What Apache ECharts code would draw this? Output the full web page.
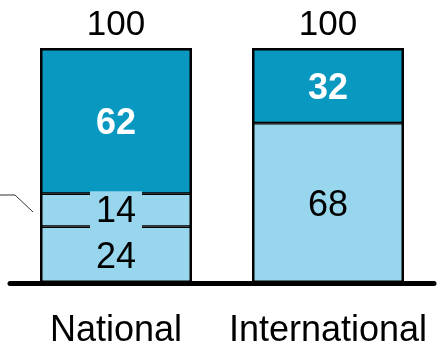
<!DOCTYPE html>
<html>
<head>
<meta charset="utf-8">
<script src="https://cdn.jsdelivr.net/npm/echarts@6/dist/echarts.min.js"></script>
<style>
  html, body { margin: 0; padding: 0; background: #fff; }
  #chart { width: 442px; height: 353px; }
</style>
</head>
<body>
<div id="chart"></div>
<script>
var categories = ['National', 'International'];
var lowVals = [24, 68];
var midVals = [14, '-'];
var topVals = [62, 32];
var totals = [100, 100];

var light = '#97d6ed';
var dark = '#0898c0';
var font = 'Liberation Sans, Arial, sans-serif';

var myChart = echarts.init(document.getElementById('chart'));

// segments get a thin border, shared edges add up to ~2-3px like the original
function segment(name, vals, color, z, label) {
    return {
        name: name,
        type: 'bar',
        stack: 'a',
        data: vals,
        barWidth: 152,
        z: z,
        itemStyle: { color: color, borderColor: '#000', borderWidth: 1.4 },
        label: label
    };
}

var option = {
    backgroundColor: '#fff',
    animation: false,
    grid: {
        left: 10,
        right: 8,
        top: 48,
        bottom: 70
    },
    xAxis: {
        type: 'category',
        data: categories,
        axisLine: {
            lineStyle: { color: '#000', width: 5, cap: 'round' }
        },
        axisTick: { show: false },
        axisLabel: {
            interval: 0,
            hideOverlap: false,
            fontSize: 36,
            color: '#000',
            fontFamily: font,
            margin: 30
        }
    },
    yAxis: {
        type: 'value',
        min: 0,
        max: 100,
        show: false
    },
    graphic: [{
        type: 'polyline',
        shape: { points: [[0, 195], [15, 195], [33, 212]] },
        style: { stroke: '#333', lineWidth: 1, fill: null }
    }],
    series: [
        segment('low', lowVals, light, 2, {
            show: true,
            position: 'inside',
            offset: [0, 3],
            fontSize: 36,
            color: '#000',
            fontFamily: font
        }),
        segment('mid', midVals, light, 3, {
            show: true,
            position: 'inside',
            offset: [0, 2],
            fontSize: 36,
            lineHeight: 36,
            color: '#000',
            fontFamily: font,
            backgroundColor: light,
            padding: [3, 6, 3, 6]
        }),
        segment('top', topVals, dark, 2, {
            show: true,
            position: 'inside',
            offset: [0, 3],
            fontSize: 36,
            fontWeight: 'bold',
            color: '#fff',
            fontFamily: font
        }),
        {
            // outer outline + total on top
            name: 'total',
            type: 'bar',
            data: totals,
            barWidth: 152,
            barGap: '-100%',
            z: 4,
            itemStyle: { color: 'rgba(0,0,0,0)', borderColor: '#000', borderWidth: 2.5 },
            label: {
                show: true,
                position: 'top',
                distance: 5,
                fontSize: 35,
                color: '#000',
                fontFamily: font
            }
        }
    ]
};

myChart.setOption(option);
</script>
</body>
</html>
